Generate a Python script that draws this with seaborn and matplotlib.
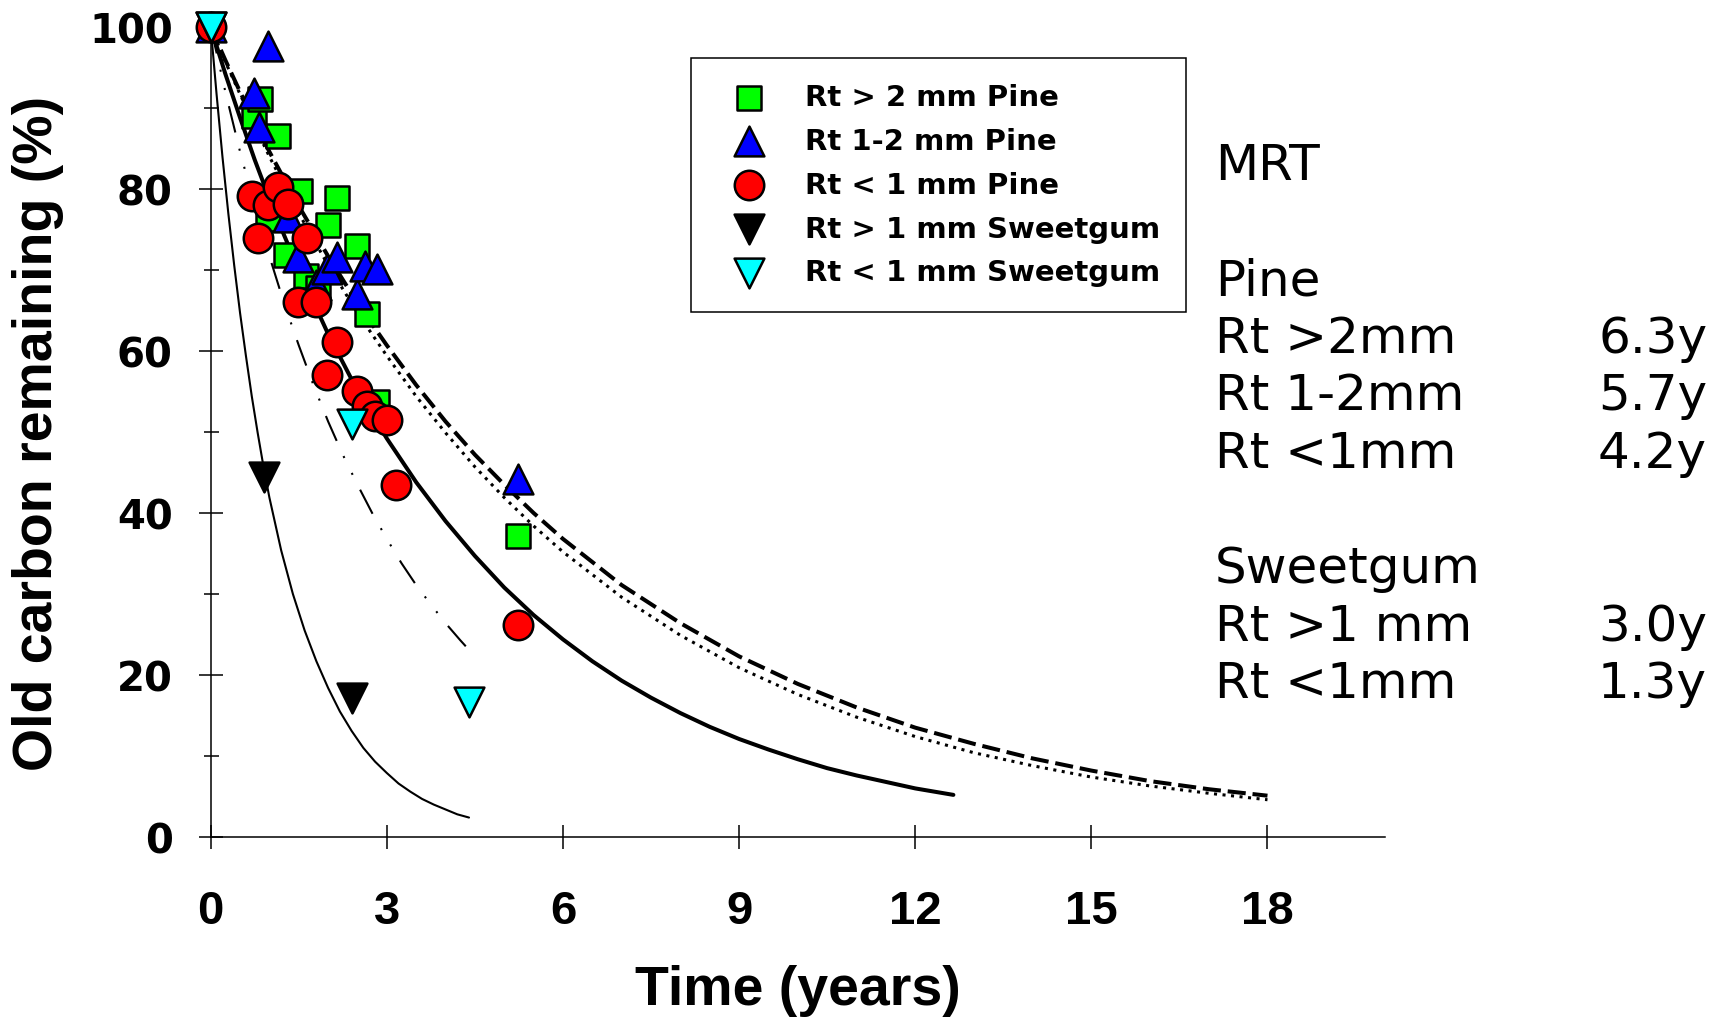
import matplotlib
matplotlib.use("Agg")
import matplotlib.pyplot as plt
import seaborn as sns
import pandas as pd
from matplotlib.ticker import MultipleLocator

# datos (tiempo en anos, % de C viejo remanente)
t_pine_gt2 = [0, 0.74, 0.84, 0.98, 1.15, 1.29, 1.52, 1.63, 1.83, 1.99, 2.15, 2.49, 2.66, 2.83, 5.24]
c_pine_gt2 = [100, 89.0, 91.1, 76.3, 86.6, 71.8, 79.8, 69.3, 67.8, 75.5, 78.9, 73.0, 64.6, 53.7, 37.2]

t_pine_12 = [0, 0.74, 0.82, 0.98, 1.32, 1.49, 1.80, 1.98, 2.15, 2.49, 2.63, 2.83, 5.24]
c_pine_12 = [100, 91.9, 87.6, 97.7, 76.5, 71.6, 68.1, 70.1, 71.6, 67.0, 70.5, 70.1, 44.2]

t_pine_lt1 = [0, 0.70, 0.81, 0.98, 1.15, 1.32, 1.49, 1.64, 1.80, 1.98, 2.15, 2.49, 2.66, 2.80, 3.00, 3.16, 5.23]
c_pine_lt1 = [100, 79.1, 74.0, 78.0, 80.2, 78.1, 66.0, 74.0, 66.0, 57.0, 61.1, 55.1, 53.2, 52.0, 51.5, 43.4, 26.2]

t_sg_gt1 = [0, 0.91, 2.40]
c_sg_gt1 = [100, 44.4, 17.2]

t_sg_lt1 = [0, 2.40, 4.40]
c_sg_lt1 = [100, 51.0, 16.7]

# curvas ajustadas (puntos leidos sobre cada curva)
fit_dash_t = [0, 0.25, 0.5, 0.75, 1, 1.5, 2, 2.5, 3, 3.5, 4, 4.5, 5, 5.5, 6, 7, 8, 9, 10, 11, 12, 13, 14, 15, 16, 17, 18]
fit_dash_c = [100, 95.9, 92.0, 88.2, 84.6, 77.9, 71.7, 65.9, 60.7, 55.8, 51.3, 47.2, 43.5, 40.0, 36.8,
              31.1, 26.4, 22.3, 18.9, 16.0, 13.5, 11.5, 9.7, 8.2, 6.9, 5.9, 5.1]

fit_dot_t = [0, 0.25, 0.5, 0.75, 1, 1.5, 2, 2.5, 3, 3.5, 4, 4.5, 5, 5.5, 6, 7, 8, 9, 10, 11, 12, 13, 14, 15, 16, 17, 18]
fit_dot_c = [100, 95.7, 91.7, 87.8, 84.0, 77.0, 70.6, 64.7, 59.4, 54.4, 49.9, 45.7, 41.9, 38.4, 35.2,
             29.6, 24.9, 20.9, 17.6, 14.8, 12.4, 10.4, 8.8, 7.4, 6.3, 5.4, 4.6]

fit_thick_t = [0, 0.25, 0.5, 0.75, 1, 1.25, 1.5, 2, 2.5, 3, 3.5, 4, 4.5, 5, 5.5, 6, 6.5, 7, 7.5, 8,
               8.5, 9, 9.5, 10, 10.5, 11, 11.5, 12, 12.65]
fit_thick_c = [100, 94.2, 88.8, 83.6, 78.8, 74.3, 70.0, 62.1, 55.1, 49.2, 43.8, 39.0, 34.7, 30.8, 27.4,
               24.4, 21.7, 19.3, 17.2, 15.3, 13.6, 12.1, 10.8, 9.6, 8.5, 7.6, 6.8, 6.0, 5.2]

fit_dd_t = [0, 0.25, 0.5, 0.75, 1, 1.25, 1.5, 1.75, 2, 2.25, 2.5, 2.75, 3, 3.25, 3.5, 3.75, 4, 4.25, 4.4]
fit_dd_c = [100, 92.0, 84.6, 77.9, 71.7, 65.9, 60.7, 55.8, 51.3, 47.2, 43.5, 40.0, 36.8, 33.8, 31.1,
            28.7, 26.4, 24.3, 23.1]

fit_thin_t = [0, 0.1, 0.2, 0.3, 0.4, 0.5, 0.6, 0.7, 0.8, 0.9, 1.0, 1.2, 1.4, 1.6, 1.8, 2.0, 2.2, 2.4,
              2.6, 2.8, 3.0, 3.2, 3.4, 3.6, 3.8, 4.0, 4.2, 4.4]
fit_thin_c = [100, 91.7, 84.0, 77.0, 70.6, 64.7, 59.4, 54.4, 49.9, 45.7, 41.9, 35.4, 30.0, 25.5, 21.7,
              18.4, 15.5, 13.1, 11.0, 9.3, 7.9, 6.6, 5.6, 4.7, 4.0, 3.4, 2.8, 2.4]

series_labels = ["Rt > 2 mm Pine", "Rt 1-2 mm Pine", "Rt < 1 mm Pine",
                 "Rt > 1 mm Sweetgum", "Rt < 1 mm Sweetgum"]

mrt_title = "MRT"
mrt_groups = ["Pine", "Sweetgum"]
mrt_pine_names = ["Rt >2mm", "Rt 1-2mm", "Rt <1mm"]
mrt_pine_vals = ["6.3y", "5.7y", "4.2y"]
mrt_sg_names = ["Rt >1 mm", "Rt <1mm"]
mrt_sg_vals = ["3.0y", "1.3y"]

sns.set_theme(style="white")
plt.rcParams['font.family'] = ['DejaVu Sans']
plt.rcParams['text.color'] = 'black'
plt.rcParams['axes.labelcolor'] = 'black'
plt.rcParams['xtick.color'] = 'black'
plt.rcParams['ytick.color'] = 'black'

W, H = 1726, 1020
fig = plt.figure(figsize=(W / 100, H / 100), dpi=100)
ax = fig.add_axes([210.7 / W, 1 - 838 / H, 1174.2 / W, 810 / H])

# curvas
sns.lineplot(x=fit_dash_t, y=fit_dash_c, ax=ax, color='black', lw=2.9,
             linestyle=(0, (4.5, 1.7)), estimator=None, zorder=2)
sns.lineplot(x=fit_dot_t, y=fit_dot_c, ax=ax, color='black', lw=2.2,
             linestyle=(0, (1, 1.8)), estimator=None, zorder=2)
sns.lineplot(x=fit_thick_t, y=fit_thick_c, ax=ax, color='black', lw=2.9,
             estimator=None, zorder=2)
sns.lineplot(x=fit_dd_t, y=fit_dd_c, ax=ax, color='black', lw=1.5,
             linestyle=(0, (13, 8, 1, 8, 1, 8)), estimator=None, zorder=2)
sns.lineplot(x=fit_thin_t, y=fit_thin_c, ax=ax, color='black', lw=1.5,
             estimator=None, zorder=2)

# puntos
puntos = [
    (t_pine_gt2, c_pine_gt2, 's', '#00ff00', 320),
    (t_pine_12, c_pine_12, '^', '#0000ff', 460),
    (t_pine_lt1, c_pine_lt1, 'o', '#ff0000', 450),
    (t_sg_gt1, c_sg_gt1, 'v', '#000000', 460),
    (t_sg_lt1, c_sg_lt1, 'v', '#00ffff', 460),
]
for i, (tt, cc, mk, col, sz) in enumerate(puntos):
    df = pd.DataFrame({'t': tt, 'c': cc})
    sns.scatterplot(data=df, x='t', y='c', ax=ax, marker=mk, color=col, s=sz,
                    edgecolor='black', linewidth=1.8, label=series_labels[i],
                    clip_on=False, zorder=3 + i)

ax.set_xlim(0, 20)
ax.set_ylim(0, 100)
ax.set_xticks([0, 3, 6, 9, 12, 15, 18])
ax.yaxis.set_major_locator(MultipleLocator(20))
ax.yaxis.set_minor_locator(MultipleLocator(10))

for s in ['top', 'right']:
    ax.spines[s].set_visible(False)
for s in ['left', 'bottom']:
    ax.spines[s].set_color('black')
    ax.spines[s].set_linewidth(1.1)

ax.tick_params(axis='y', which='major', direction='inout', length=16.6, width=1.1,
               color='black', labelcolor='black', pad=19, left=True)
ax.tick_params(axis='y', which='minor', direction='inout', length=10.8, width=1.1,
               color='black', left=True)
ax.tick_params(axis='x', which='major', direction='inout', length=17, width=1.1,
               color='black', labelcolor='black', pad=29, bottom=True)

for lab in ax.get_yticklabels():
    lab.set_fontfamily('DejaVu Sans')
    lab.set_fontweight('bold')
    lab.set_fontsize(29)
for lab in ax.get_xticklabels():
    lab.set_fontfamily('Liberation Sans')
    lab.set_fontweight('bold')
    lab.set_fontsize(34)

ax.set_xlabel('Time (years)', fontfamily='Liberation Sans', fontweight='bold',
              fontsize=40, color='black')
ax.set_ylabel('Old carbon remaining (%)', fontfamily='Liberation Sans', fontweight='bold',
              fontsize=40, color='black')
ax.xaxis.set_label_coords(0.5, -0.157)
ax.yaxis.set_label_coords(-0.1467, 0.5)
ax.yaxis.label.set_va('center')
ax.xaxis.label.set_va('top')

leg = ax.legend(loc='upper left', bbox_to_anchor=(691 / W, 1 - 59 / H),
                bbox_transform=fig.transFigure, borderaxespad=0,
                prop={'family': 'DejaVu Sans', 'weight': 'bold', 'size': 21},
                borderpad=0.87, labelspacing=0.54, handlelength=2.25,
                handletextpad=0.8, fancybox=False, framealpha=1)
leg.get_frame().set_edgecolor('black')
leg.get_frame().set_linewidth(1.1)
for t in leg.get_texts():
    t.set_color('black')

# texto MRT a la derecha
x_left = 1215 / W
x_right = 1598 / W


def base_y(k):
    return 1 - (180 + 57.6 * k) / H


txt = dict(fontfamily='DejaVu Sans', fontsize=36, va='baseline', ha='left', color='black')
fig.text(x_left, base_y(0), mrt_title, **txt)
fig.text(x_left, base_y(2), mrt_groups[0], **txt)
for j in range(3):
    fig.text(x_left, base_y(3 + j), mrt_pine_names[j], **txt)
    fig.text(x_right, base_y(3 + j), mrt_pine_vals[j], **txt)
fig.text(x_left, base_y(7), mrt_groups[1], **txt)
for j in range(2):
    fig.text(x_left, base_y(8 + j), mrt_sg_names[j], **txt)
    fig.text(x_right, base_y(8 + j), mrt_sg_vals[j], **txt)

fig.savefig('out.png', dpi=100)
